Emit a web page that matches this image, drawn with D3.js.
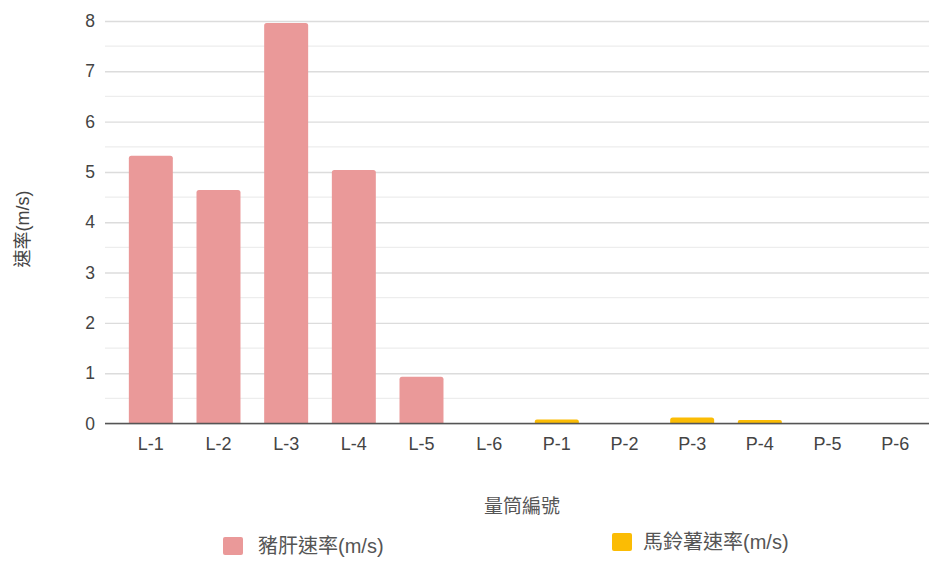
<!DOCTYPE html>
<html>
<head>
<meta charset="utf-8">
<script src="https://cdn.jsdelivr.net/npm/d3@7"></script>
<style>
  html, body { margin: 0; padding: 0; background: #fff; }
  svg { display: block; font-family: "Liberation Sans", Arial, "Noto Sans CJK TC", sans-serif; }
</style>
</head>
<body>
<svg id="chart" width="931" height="561"></svg>
<script>
// Graduated-cylinder IDs and measured speeds (m/s)
const categories = ["L-1", "L-2", "L-3", "L-4", "L-5", "L-6", "P-1", "P-2", "P-3", "P-4", "P-5", "P-6"];
const liverSpeed  = [5.32, 4.64, 7.96, 5.04, 0.93, 0, 0, 0, 0, 0, 0, 0];
const potatoSpeed = [0, 0, 0, 0, 0, 0, 0.08, 0, 0.12, 0.07, 0, 0];
const yTicks = [0, 1, 2, 3, 4, 5, 6, 7, 8];
const seriesNames = ["豬肝速率(m/s)", "馬鈴薯速率(m/s)"];
const seriesColors = ["#ea9999", "#fbbc04"];

const svg = d3.select("#chart");
const gridLeft = 105, gridRight = 929;
const x = d3.scaleBand().domain(categories).range([117, 929]).paddingInner(0.35).paddingOuter(0.175);
const y = d3.scaleLinear().domain([0, 8]).range([423.5, 21]);

// minor gridlines at half units
const minor = d3.range(0.5, 8, 1);
svg.append("g").selectAll("line").data(minor).join("line")
  .attr("x1", gridLeft).attr("x2", gridRight)
  .attr("y1", d => y(d)).attr("y2", d => y(d))
  .attr("stroke", "#ededed").attr("stroke-width", 1.2);

// major gridlines and tick labels
const yAxis = d3.axisLeft(y).tickValues(yTicks).tickSize(-(gridRight - gridLeft)).tickPadding(10).tickFormat(d3.format("d"));
const gy = svg.append("g").attr("transform", `translate(${gridLeft},0)`).call(yAxis);
gy.select(".domain").remove();
gy.selectAll(".tick line").attr("stroke", "#dcdcdc").attr("stroke-width", 1.4);
gy.selectAll(".tick text").attr("fill", "#444").attr("font-size", 17.5);

// bars
const stacks = [liverSpeed, potatoSpeed];
stacks.forEach((vals, si) => {
  svg.append("g").selectAll("path").data(categories.map((c, i) => ({ c, v: vals[i] })).filter(d => d.v > 0))
    .join("path")
    .attr("fill", seriesColors[si])
    .attr("d", d => {
      const x0 = x(d.c), w = x.bandwidth(), y0 = y(0), y1 = y(d.v);
      const r = Math.min(2.5, (y0 - y1) / 2);
      return `M${x0},${y0}V${y1 + r}Q${x0},${y1} ${x0 + r},${y1}H${x0 + w - r}Q${x0 + w},${y1} ${x0 + w},${y1 + r}V${y0}Z`;
    });
});

// baseline and category labels
const xAxis = d3.axisBottom(x).tickSize(0).tickPadding(14);
const gx = svg.append("g").attr("transform", `translate(0,${y(0)})`).call(xAxis);
gx.select(".domain").remove();
gx.selectAll(".tick text").attr("fill", "#444").attr("font-size", 18);
svg.append("line").attr("x1", gridLeft).attr("x2", gridRight)
  .attr("y1", y(0)).attr("y2", y(0)).attr("stroke", "#555").attr("stroke-width", 1.5);

// axis titles
svg.append("text").attr("x", 522).attr("y", 513).attr("text-anchor", "middle")
  .attr("fill", "#555").attr("font-size", 19).attr("font-family", "'Noto Sans CJK TC', sans-serif")
  .text("量筒編號");
svg.append("text").attr("transform", "translate(29,229) rotate(-90)").attr("text-anchor", "middle")
  .attr("fill", "#444").attr("font-size", 18)
  .text("速率(m/s)");

// legend
const legend = [
  { name: seriesNames[0], color: seriesColors[0], sx: 223, sy: 537, tx: 258, ty: 553 },
  { name: seriesNames[1], color: seriesColors[1], sx: 612, sy: 533, tx: 643, ty: 549 }
];
const lg = svg.append("g").selectAll("g").data(legend).join("g");
lg.append("rect").attr("x", d => d.sx).attr("y", d => d.sy).attr("width", 20).attr("height", 18)
  .attr("rx", 2).attr("fill", d => d.color);
lg.append("text").attr("x", d => d.tx).attr("y", d => d.ty).attr("fill", "#555").attr("font-size", 20)
  .text(d => d.name);
</script>
</body>
</html>
